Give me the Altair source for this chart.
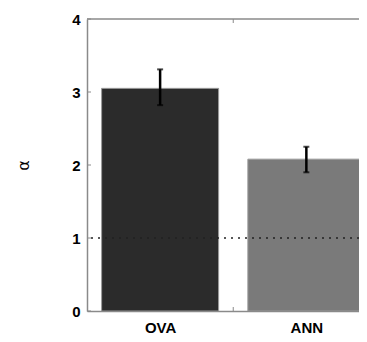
import altair as alt
import pandas as pd

categories = ["OVA", "ANN"]
positions = [1, 2]
values = [3.05, 2.08]
err_low = [2.82, 1.90]
err_high = [3.31, 2.25]
bar_colors = ["#2b2b2b", "#7a7a7a"]
y_ticks = [0, 1, 2, 3, 4]
x_mid_ticks = [1.5]
ref_level = 1

X_MIN, X_MAX = 0.5, 2.36
HALF = 0.4

df = pd.DataFrame({
    "cat": categories, "pos": positions, "val": values,
    "lo": err_low, "hi": err_high, "color": bar_colors,
})
df["left"] = df["pos"] - HALF
df["right"] = df["pos"] + HALF

xs = alt.Scale(domain=[X_MIN, X_MAX], nice=False, zero=False)
ys = alt.Scale(domain=[0, 4], nice=False)

label_expr = "datum.value == 1 ? 'OVA' : (datum.value == 2 ? 'ANN' : '')"

base = alt.Chart(df)

bars = base.mark_bar(stroke="#9a9a9a", strokeWidth=1, clip=True).encode(
    x=alt.X("left:Q", scale=xs, axis=alt.Axis(
        values=positions, labelExpr=label_expr, title=None, ticks=False,
        labelFont="Liberation Sans", labelFontWeight="bold", labelFontSize=15,
        labelColor="#000", labelPadding=9, domainColor="#8a8a8a",
        domainWidth=1.5, grid=False)),
    x2="right:Q",
    y=alt.Y("val:Q", scale=ys, axis=alt.Axis(
        values=y_ticks, format="d", title="α", titleFontSize=16, titleFontWeight="normal",
        titleColor="#000", titlePadding=40, titleFont="DejaVu Sans",
        labelFont="Liberation Sans", labelFontWeight="bold", labelFontSize=15,
        labelColor="#000", labelPadding=7, ticks=False, domainColor="#8a8a8a",
        domainWidth=1.5, grid=False)),
    y2=alt.datum(0),
    color=alt.Color("color:N", scale=None),
)

ref = alt.Chart(pd.DataFrame({"y": [ref_level]})).mark_rule(
    color="#222", strokeDash=[2, 5], strokeWidth=1.3
).encode(y=alt.Y("y:Q", scale=ys))

stems = base.mark_rule(color="#000", strokeWidth=2.5).encode(
    x=alt.X("pos:Q", scale=xs), y=alt.Y("lo:Q", scale=ys), y2="hi:Q")
caps_hi = base.mark_tick(orient="horizontal", color="#000", size=6, thickness=2).encode(
    x=alt.X("pos:Q", scale=xs), y=alt.Y("hi:Q", scale=ys))
caps_lo = base.mark_tick(orient="horizontal", color="#000", size=6, thickness=2).encode(
    x=alt.X("pos:Q", scale=xs), y=alt.Y("lo:Q", scale=ys))

top = alt.Chart(pd.DataFrame({"x0": [X_MIN], "x1": [X_MAX], "y": [4]})).mark_rule(
    color="#8a8a8a", strokeWidth=1.5
).encode(x=alt.X("x0:Q", scale=xs), x2="x1:Q", y=alt.Y("y:Q", scale=ys))

ytick_df = pd.DataFrame({"y": y_ticks})
yticks = alt.Chart(ytick_df).mark_rule(color="#8a8a8a", strokeWidth=1).encode(
    y=alt.Y("y:Q", scale=ys), x=alt.value(0), x2=alt.value(4))

xtick_df = pd.DataFrame({"x": x_mid_ticks})
xticks_bottom = alt.Chart(xtick_df).mark_rule(color="#8a8a8a", strokeWidth=1).encode(
    x=alt.X("x:Q", scale=xs), y=alt.value(292), y2=alt.value(288))
xticks_top = alt.Chart(xtick_df).mark_rule(color="#8a8a8a", strokeWidth=1).encode(
    x=alt.X("x:Q", scale=xs), y=alt.value(0), y2=alt.value(4))

chart = alt.layer(bars, ref, stems, caps_hi, caps_lo, top, yticks,
                  xticks_bottom, xticks_top).properties(
    width=272, height=292,
    autosize=alt.AutoSizeParams(type="none"),
    padding={"left": 79, "top": 11, "right": 0, "bottom": 25},
    background="#ffffff",
).configure_view(stroke=None)

chart.save("out.html", embed_options={"renderer": "svg", "actions": False})
